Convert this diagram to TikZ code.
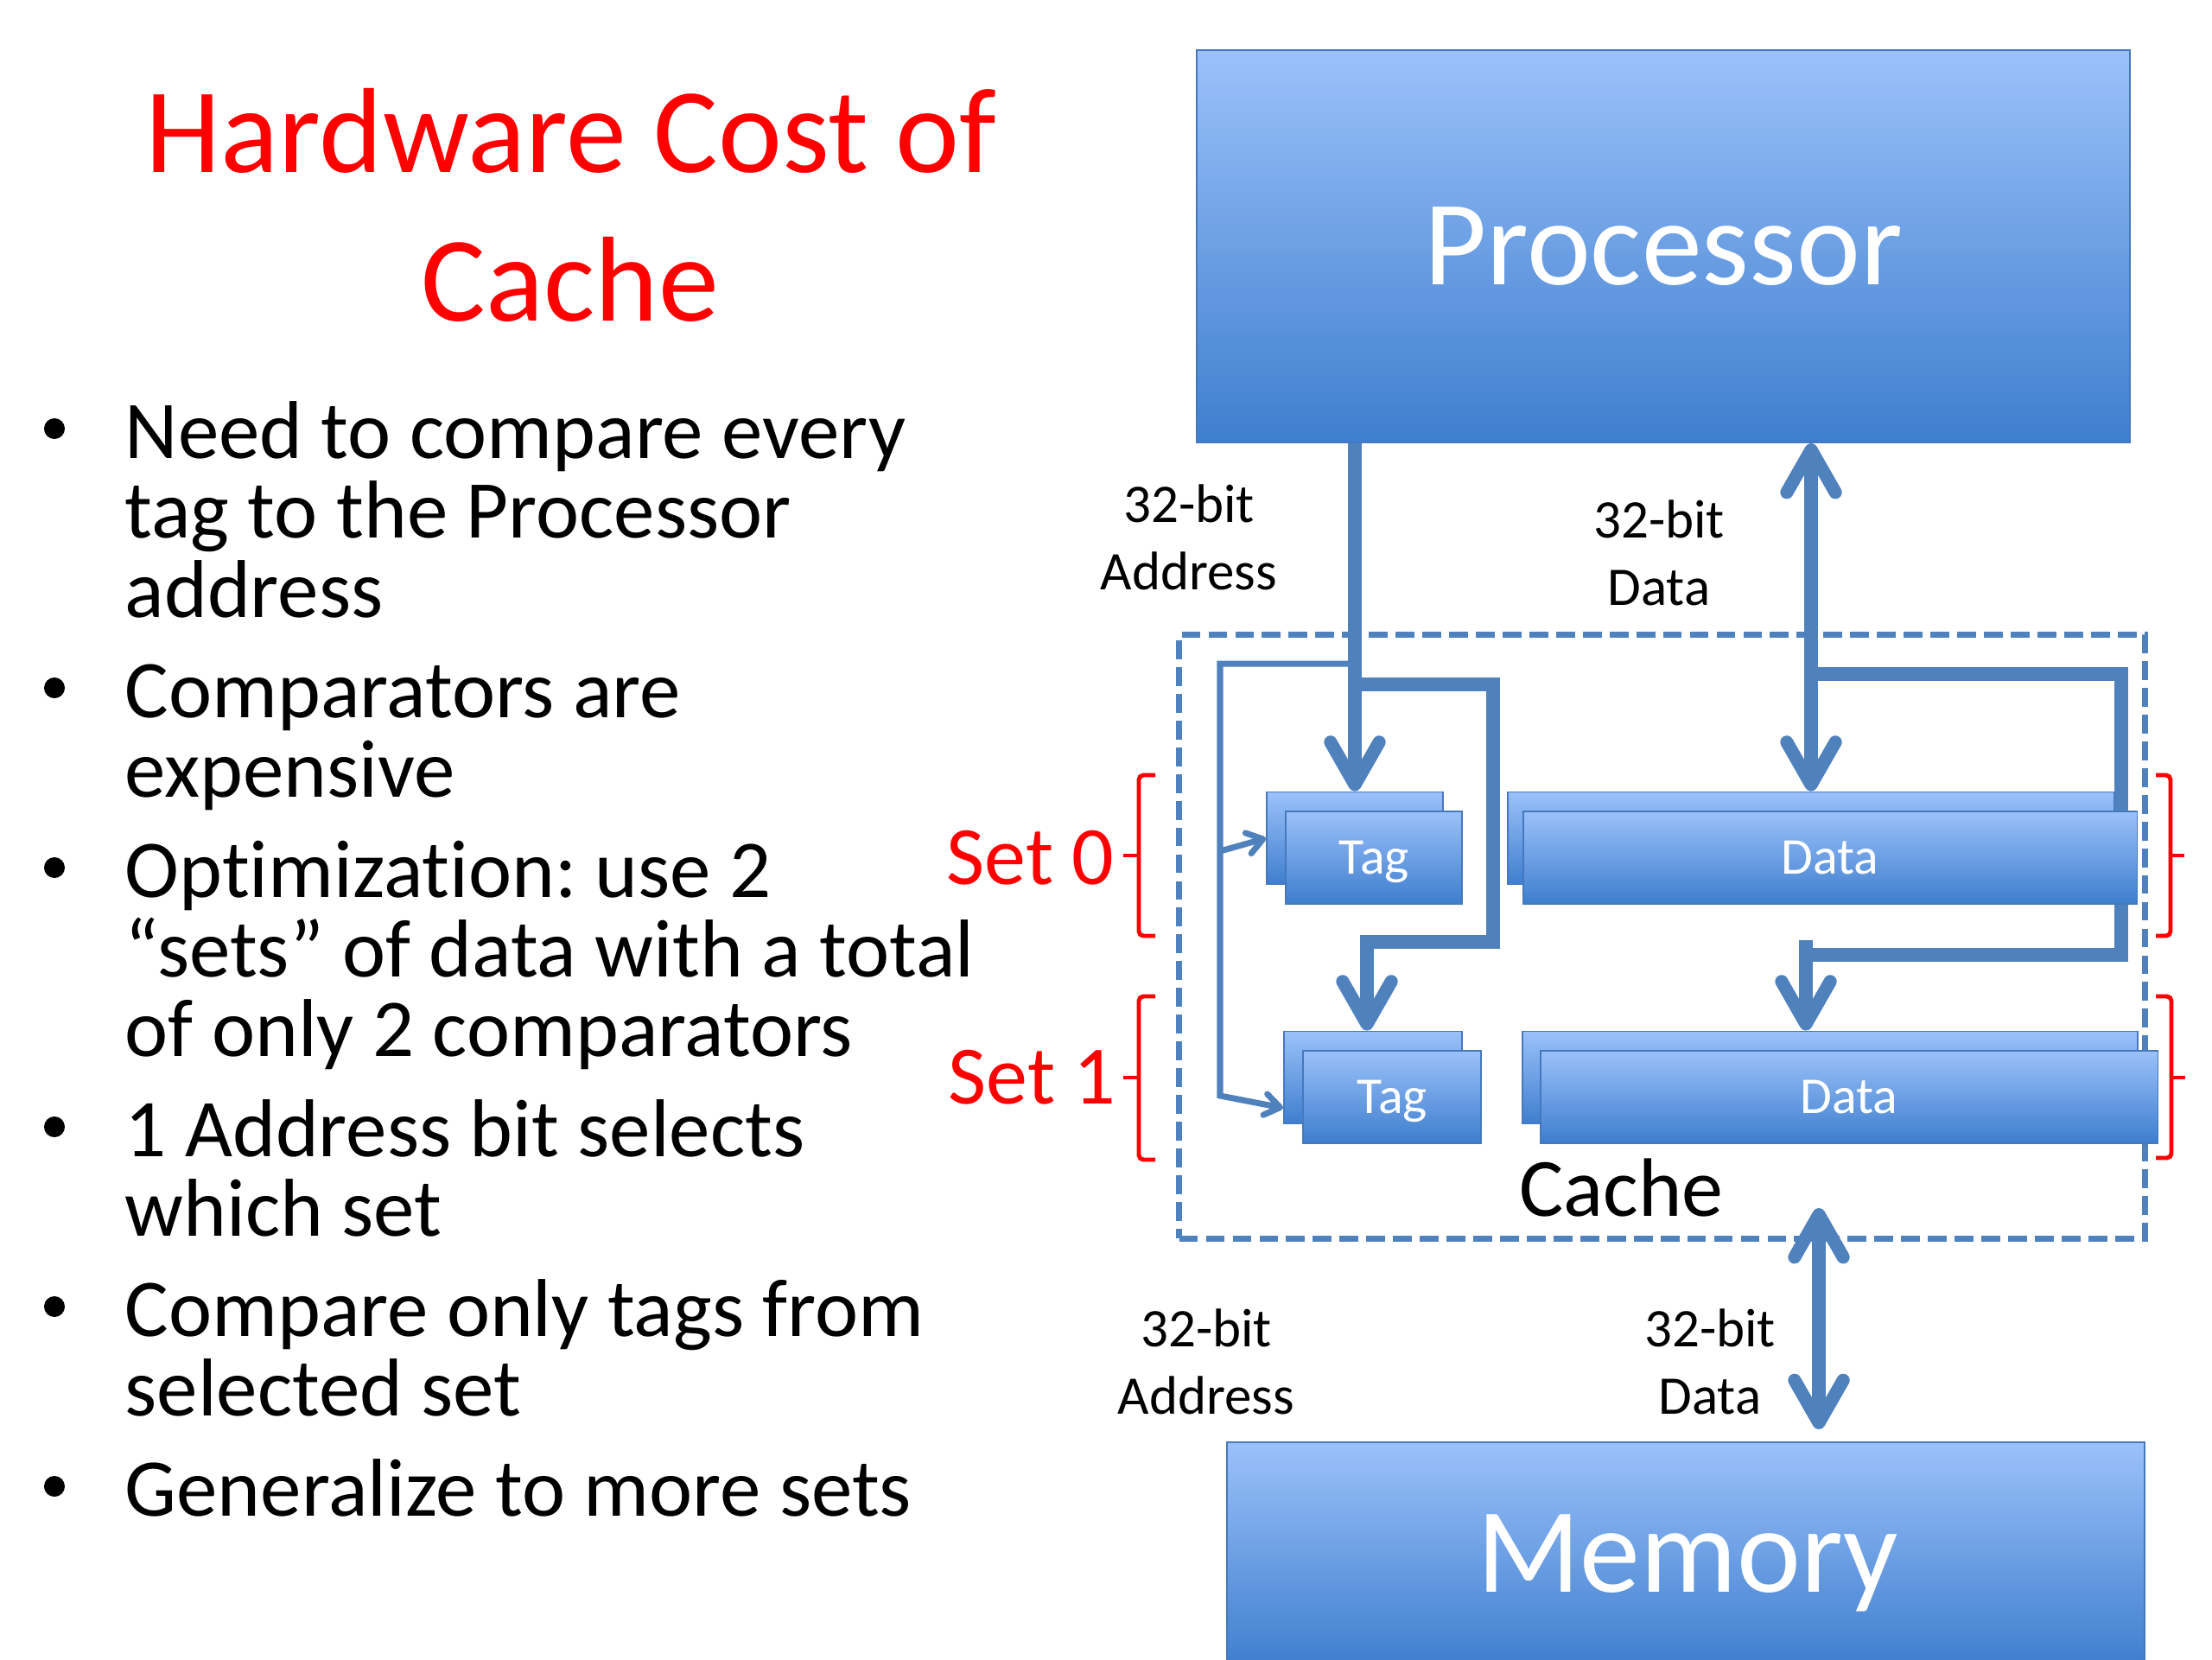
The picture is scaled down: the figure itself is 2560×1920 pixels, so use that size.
\documentclass[tikz,border=0pt]{standalone}
\usepackage{fontspec}
\setmainfont{Carlito}[Ligatures=NoCommon]
\usepackage{tikz}
\usetikzlibrary{arrows.meta}
\frenchspacing
\definecolor{wire}{RGB}{79,129,189}
\definecolor{boxtop}{RGB}{155,193,250}
\definecolor{boxbot}{RGB}{62,126,206}
\definecolor{boxline}{RGB}{70,120,190}
\definecolor{setred}{RGB}{255,0,0}
\tikzstyle{bigbox} = [rectangle,
inner sep=0pt,
draw=boxline,
line width=0.5pt,
top color=boxtop,
bottom color=boxbot,
text=white,
font=\fontsize{39.8}{48}\selectfont]
\tikzstyle{cell} = [rectangle,
minimum height=1.07cm,
inner sep=0pt,
draw=boxline,
line width=0.5pt,
top color=boxtop,
bottom color=boxbot,
text=white,
text depth=0pt,
font=\fontsize{17}{20}\selectfont]
\tikzstyle{front} = [xshift=6.3pt, yshift=-6.3pt]
\tikzstyle{bus} = [draw=wire, line width=4.3pt,
>={Straight Barb[round, length=14pt, width=16pt]}]
\tikzstyle{sel} = [draw=wire, line width=2pt,
>={Straight Barb[round, length=5pt, width=7pt]}]
\tikzstyle{cachebox} = [rectangle,
draw=wire,
line width=1.9pt,
dash pattern=on 6.2pt off 2.6pt,
minimum width=11.17cm,
minimum height=6.98cm,
inner sep=0pt]
\tikzstyle{buslabel} = [align=center, inner sep=0pt, font=\fontsize{17.9}{22.2}\selectfont]
\tikzstyle{titletext} = [anchor=base, inner sep=0pt, text=setred, font=\fontsize{39.8}{48}\selectfont]
\tikzstyle{bline} = [anchor=base west, inner sep=0pt, font=\fontsize{27}{32}\selectfont]
\tikzstyle{bdot} = [circle, fill=black, minimum size=0.24cm, inner sep=0pt]
\tikzstyle{setlabel} = [anchor=base west, inner sep=0pt, text=setred, font=\fontsize{27.3}{32}\selectfont]
\tikzstyle{setbrace} = [draw=setred, line width=1.4pt, rounded corners=1.5pt]

\begin{document}
\begin{tikzpicture}[x=0.01cm, y=-0.01cm]
\useasboundingbox (0,0) rectangle (2560,1920);
\clip (0,0) rectangle (2560,1920);
\node (t1) [titletext] at (661,199) {Hardware Cost of};
\node (t2) [titletext] at (660,371) {Cache};
\node (d1) [bdot] at (63,496) {};
\node (l11) [bline] at (144,530) {Need to compare every};
\node (l12) [bline] at (144,622) {tag to the Processor};
\node (l13) [bline] at (144,714) {address};
\node (d2) [bdot] at (63,796) {};
\node (l21) [bline] at (144,830) {Comparators are};
\node (l22) [bline] at (144,922) {expensive};
\node (d3) [bdot] at (63,1004) {};
\node (l31) [bline] at (144,1038) {Optimization: use 2};
\node (l32) [bline] at (144,1130) {“sets” of data with a total};
\node (l33) [bline] at (144,1222) {of only 2 comparators};
\node (d4) [bdot] at (63,1304) {};
\node (l41) [bline] at (144,1338) {1 Address bit selects};
\node (l42) [bline] at (144,1430) {which set};
\node (d5) [bdot] at (63,1512) {};
\node (l51) [bline] at (144,1546) {Compare only tags from};
\node (l52) [bline] at (144,1638) {selected set};
\node (d6) [bdot] at (63,1720) {};
\node (l61) [bline] at (144,1754) {Generalize to more sets};

\node (proc) [bigbox, minimum width=10.8cm, minimum height=4.54cm] at (1925,285) {Processor};
\node (mem) [bigbox, minimum width=10.62cm, minimum height=2.6cm] at (1951,1799) {};
\node (memtext) [anchor=base, inner sep=0pt, text=white, font=\fontsize{39.8}{48}\selectfont] at (1953,1842) {Memory};
\node (cache) [cachebox] at (1923.5,1084) {};
\node (cachetext) [anchor=base west, inner sep=0pt, font=\fontsize{27.3}{32}\selectfont] at (1758,1407) {Cache};

\node (alabel1) [buslabel] at (1376,622) {32-bit\\Address};
\node (dlabel1) [buslabel] at (1920,640) {32-bit\\Data};
\node (alabel2) [buslabel] at (1396,1576) {32-bit\\Address};
\node (dlabel2) [buslabel] at (1979,1576) {32-bit\\Data};

\node (tag0b) [cell, minimum width=2.04cm] at (1568,970) {};
\node (tag1b) [cell, minimum width=2.06cm] at (1589,1247) {};
\node (data0b) [cell, minimum width=7.02cm] at (2096,970) {};
\node (data1b) [cell, minimum width=7.12cm] at (2118,1247) {};

\coordinate (a1) at (1568,792);
\coordinate (a2) at (1728,792);
\coordinate (a3) at (1728,1090);
\coordinate (a4) at (1582,1090);
\coordinate (s0) at (1568,768);
\coordinate (s1) at (1412,985);
\coordinate (s2) at (1412,1268);
\coordinate (b1) at (2096,780);
\coordinate (b2) at (2455,780);
\coordinate (b3) at (2455,1105);
\coordinate (b4) at (2090,1105);
\coordinate (b5) at (2090,1088);
\coordinate (m0) at (2105,1398);
\coordinate (m1) at (2105,1654);
\draw [bus,->] (tag0b.north |- proc.south) -- (tag0b.north);
\draw [bus,->] (a1) -- (a2) -- (a3) -- (a4) -- (a4 |- tag1b.north);
\draw [sel,->] (s0) -| (s2) -- ([yshift=-10pt]tag1b.west);
\draw [sel,->] (s1) -- (tag0b.west);
\draw [bus,<->] (data0b.north |- proc.south) -- (data0b.north);
\draw [bus] (b1) -- (b2) -- (b3) -- (b4);
\draw [bus,->] (b5) -- (b5 |- data1b.north);
\draw [bus,<->] (m0) -- (m1);

\node (tag0) [cell, front, minimum width=2.04cm] at (tag0b) {Tag};
\node (tag1) [cell, front, minimum width=2.06cm] at (tag1b) {Tag};
\node (data0) [cell, front, minimum width=7.10cm] at (data0b) {Data};
\node (data1) [cell, front, minimum width=7.14cm] at (data1b) {Data};

\node (set0) [setlabel] at (1095,1023) {Set 0};
\node (set1) [setlabel] at (1097,1277) {Set 1};
\draw [setbrace] (1337,897) -- (1318,897) -- (1318,1083) -- (1337,1083);
\draw [setbrace] (1318,990) -- (1300,990);
\draw [setbrace] (1337,1153) -- (1318,1153) -- (1318,1342) -- (1337,1342);
\draw [setbrace] (1318,1247) -- (1300,1247);
\draw [setbrace] (2495,897) -- (2512,897) -- (2512,1083) -- (2495,1083);
\draw [setbrace] (2512,990) -- (2528,990);
\draw [setbrace] (2495,1153) -- (2513,1153) -- (2513,1340) -- (2495,1340);
\draw [setbrace] (2513,1247) -- (2529,1247);
\end{tikzpicture}
\end{document}
